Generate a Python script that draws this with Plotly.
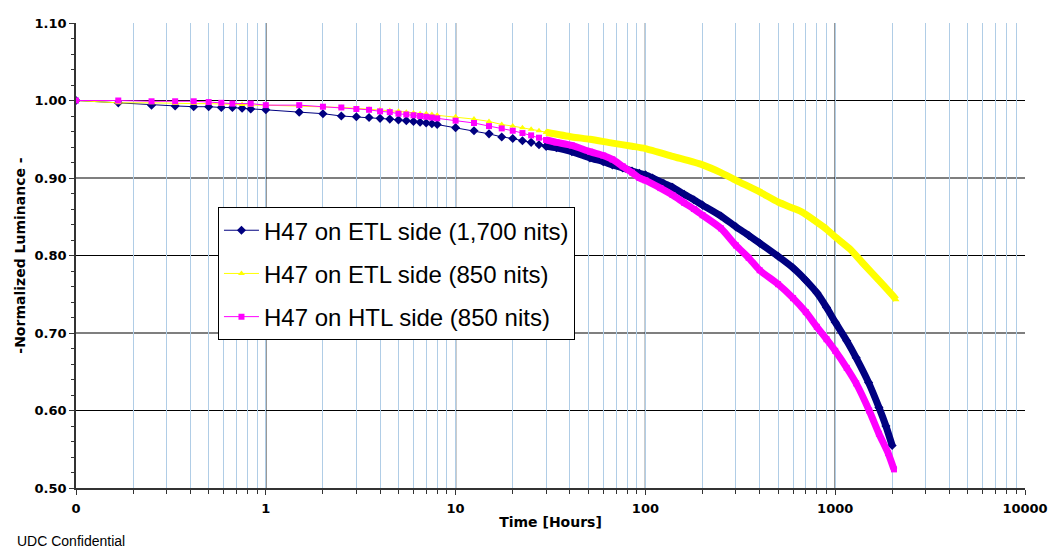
import plotly.graph_objects as go

# ---------------- data ----------------
# early, sparse readings (hours)
blue_t_early = [0.1, 0.167, 0.25, 0.333, 0.417, 0.5, 0.583, 0.667, 0.75, 0.833, 1.0, 1.5, 2, 2.5, 3, 3.5, 4,
                4.5, 5, 5.5, 6, 6.5, 7, 7.5, 8, 10, 12.5, 15, 17.5, 20, 22.5, 25, 27.5, 30]
blue_y_early = [1.000, 0.997, 0.994, 0.993, 0.992, 0.992, 0.991, 0.991, 0.990, 0.989, 0.988, 0.985, 0.983,
                0.980, 0.979, 0.978, 0.977, 0.976, 0.975, 0.974, 0.973, 0.972, 0.971, 0.970, 0.969, 0.965,
                0.961, 0.957, 0.953, 0.951, 0.948, 0.946, 0.943, 0.941]
# later, dense readings
blue_t_late = [30, 34, 41, 51, 60, 67, 76, 85, 93, 100, 109, 125, 139, 160, 180, 200, 250, 300, 350, 400,
               500, 600, 700, 800, 900, 1000, 1150, 1290, 1500, 1700, 1850, 1995]
blue_y_late = [0.941, 0.939, 0.934, 0.926, 0.921, 0.917, 0.913, 0.909, 0.906, 0.904, 0.900, 0.893, 0.888,
               0.879, 0.872, 0.865, 0.851, 0.837, 0.826, 0.816, 0.799, 0.784, 0.768, 0.752, 0.733, 0.714,
               0.690, 0.668, 0.636, 0.604, 0.580, 0.555]

yellow_t_early = [0.1, 0.167, 0.25, 0.333, 0.417, 0.5, 0.583, 0.667, 0.75, 0.833, 1.0, 1.5, 2, 2.5, 3, 3.5,
                  4, 4.5, 5, 5.5, 6, 6.5, 7, 7.5, 8, 10, 12.5, 15, 17.5, 20, 22.5, 25, 27.5, 30]
yellow_y_early = [1.000, 0.997, 0.997, 0.996, 0.996, 0.996, 0.995, 0.995, 0.995, 0.994, 0.994, 0.993, 0.992,
                  0.991, 0.990, 0.989, 0.988, 0.987, 0.986, 0.985, 0.984, 0.983, 0.983, 0.982, 0.981, 0.979,
                  0.976, 0.973, 0.969, 0.967, 0.965, 0.963, 0.961, 0.959]
yellow_t_late = [30, 41, 51, 67, 85, 100, 139, 200, 250, 300, 400, 500, 600, 670, 780, 900, 1000, 1200,
                 1400, 1700, 2000, 2094]
yellow_y_late = [0.959, 0.953, 0.950, 0.945, 0.941, 0.938, 0.928, 0.917, 0.907, 0.897, 0.882, 0.869, 0.861,
                 0.856, 0.845, 0.834, 0.824, 0.808, 0.790, 0.768, 0.749, 0.743]

pink_t_early = [0.1, 0.167, 0.25, 0.333, 0.417, 0.5, 0.583, 0.667, 0.833, 1.0, 1.5, 2, 2.5, 3, 3.5, 4, 4.5,
                5, 5.5, 6, 6.5, 7, 7.5, 8, 10, 12.5, 15, 17.5, 20, 22.5, 25, 27.5, 30]
pink_y_early = [1.000, 1.000, 0.999, 0.999, 0.999, 0.998, 0.997, 0.996, 0.996, 0.994, 0.994, 0.992, 0.991,
                0.989, 0.988, 0.986, 0.985, 0.983, 0.982, 0.981, 0.980, 0.979, 0.978, 0.977, 0.974, 0.971,
                0.967, 0.964, 0.961, 0.958, 0.955, 0.952, 0.949]
pink_t_late = [30, 34, 41, 51, 60, 67, 76, 85, 93, 100, 120, 139, 160, 180, 200, 250, 300, 350, 400,
               500, 600, 700, 800, 900, 1000, 1150, 1290, 1510, 1700, 1900, 2040]
pink_y_late = [0.949, 0.946, 0.942, 0.934, 0.929, 0.924, 0.915, 0.907, 0.900, 0.897, 0.887, 0.878, 0.868,
               0.860, 0.852, 0.835, 0.813, 0.797, 0.781, 0.763, 0.745, 0.727, 0.708, 0.692, 0.677, 0.655,
               0.635, 0.600, 0.570, 0.545, 0.524]

series_names = ["H47 on ETL side (1,700 nits)", "H47 on ETL side (850 nits)", "H47 on HTL side (850 nits)"]

x_tick_vals = [0.1, 1, 10, 100, 1000, 10000]
x_tick_text = ["0", "1", "10", "100", "1000", "10000"]
y_tick_vals = [0.5, 0.6, 0.7, 0.8, 0.9, 1.0, 1.1]
x_major_lines = [1, 10, 100, 1000]
y_major_lines = [0.6, 0.7, 0.8, 0.9, 1.0]

# ---------------- figure ----------------
fig = go.Figure()

styles = [
    ("#000080", "diamond", 7, blue_t_early, blue_y_early, blue_t_late, blue_y_late),
    ("#FFFF00", "triangle-up", 6, yellow_t_early, yellow_y_early, yellow_t_late, yellow_y_late),
    ("#FF00FF", "square", 6, pink_t_early, pink_y_early, pink_t_late, pink_y_late),
]

for i, (col, sym, msz, te, ye, tl, yl) in enumerate(styles):
    fig.add_trace(go.Scatter(
        x=te, y=ye, mode="lines+markers", name=series_names[i], legendgroup=f"g{i}",
        line=dict(color=col, width=1), marker=dict(color=col, symbol=sym, size=msz),
        showlegend=True))
    fig.add_trace(go.Scatter(
        x=tl, y=yl, mode="lines+markers", name=series_names[i], legendgroup=f"g{i}",
        line=dict(color=col, width=7, shape="spline", smoothing=0.6),
        marker=dict(color=col, symbol=sym, size=msz),
        showlegend=False))

shapes = []
for xv in x_major_lines:
    shapes.append(dict(type="line", xref="x", yref="paper", x0=xv, x1=xv, y0=0, y1=1,
                       line=dict(color="black", width=1.2), layer="below"))
for yv in y_major_lines:
    shapes.append(dict(type="line", xref="paper", yref="y", x0=0, x1=1, y0=yv, y1=yv,
                       line=dict(color="black", width=1.2), layer="below"))

tick_font = dict(family="DejaVu Sans", size=13, color="black", weight="bold")
title_font = dict(family="DejaVu Sans", size=14, color="black", weight="bold")
light_blue = "#B0CDE6"

fig.update_layout(
    width=1050, height=548,
    margin=dict(l=76, r=25, t=23, b=60),
    paper_bgcolor="white", plot_bgcolor="white",
    shapes=shapes,
    showlegend=True,
    legend=dict(x=0.1496, y=0.604, xanchor="left", yanchor="top",
                bgcolor="white", bordercolor="black", borderwidth=1,
                font=dict(family="Liberation Sans", size=24, color="black"),
                tracegroupgap=9, itemwidth=35),
    xaxis=dict(
        type="log", range=[-1, 4], automargin=False,
        tickvals=x_tick_vals, ticktext=x_tick_text, tickfont=tick_font,
        ticklabelstandoff=3,
        showgrid=True, gridcolor=light_blue, gridwidth=1,
        ticks="outside", ticklen=5, tickcolor="#333",
        minor=dict(dtick="D1", ticks="outside", ticklen=4, tickcolor="#333",
                   showgrid=True, gridcolor=light_blue, gridwidth=1),
        showline=True, linecolor="#333", linewidth=1.5,
        zeroline=False,
        title=dict(text="Time [Hours]", font=title_font, standoff=2),
    ),
    yaxis=dict(
        range=[0.5, 1.1], automargin=False,
        tickvals=y_tick_vals, tickformat=".2f", tickfont=tick_font,
        showgrid=False,
        ticks="outside", ticklen=5, tickcolor="#333",
        minor=dict(dtick=0.02, ticks="outside", ticklen=3, tickcolor="#333", showgrid=False),
        showline=True, linecolor="#333", linewidth=1.5,
        zeroline=False,
        title=dict(text="-Normalized Luminance -", font=title_font, standoff=6),
    ),
    annotations=[dict(text="UDC Confidential", xref="paper", yref="paper", x=-0.0643, y=-0.093,
                      xanchor="left", yanchor="top", showarrow=False,
                      font=dict(family="Liberation Sans", size=14, color="black"))],
)

fig.write_html("out.html", config={"displayModeBar": False},
               post_script="document.body.style.margin='0px';document.body.style.padding='0px';")
